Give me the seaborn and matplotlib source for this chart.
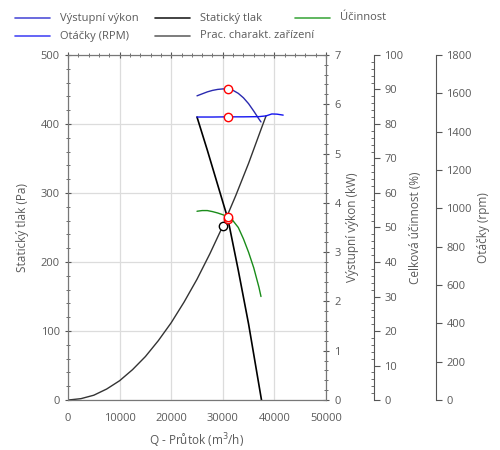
import matplotlib
matplotlib.use("Agg")
import matplotlib.pyplot as plt
import seaborn as sns
from matplotlib.ticker import MultipleLocator
from matplotlib.lines import Line2D

# flow (m3/h) and values
q_static = [25000, 27000, 29000, 31000, 33000, 35000, 37500]
p_static = [410, 362, 312, 262, 188, 110, 0]

q_system = [0, 2500, 5000, 7500, 10000, 12500, 15000, 17500, 20000, 22500,
            25000, 27500, 30000, 32500, 35000, 37500, 38400]
p_system = [0, 2, 7, 16, 28, 44, 63, 86, 112, 142, 175, 212, 252, 296, 343, 394, 412]

q_power = [25000, 26000, 27000, 28000, 29000, 30000, 31000, 32000, 33000,
           34000, 35000, 36000, 37000, 37400]
kw_power = [6.17, 6.21, 6.25, 6.28, 6.30, 6.31, 6.31, 6.28, 6.22,
            6.13, 6.01, 5.86, 5.70, 5.64]

q_eff = [25000, 26000, 27000, 28000, 29000, 30000, 31000, 32000, 33000,
         34000, 35000, 36000, 37000, 37400]
eff = [54.7, 54.9, 54.9, 54.6, 54.2, 53.7, 53.1, 51.9, 50.0,
       46.7, 42.8, 38.3, 32.7, 30.0]

q_rpm = [25000, 28000, 31000, 34000, 37000, 38400, 39500, 40500, 41700]
rpm = [1476, 1476, 1477, 1477, 1478, 1482, 1492, 1491, 1486]

# operating points
q_op = 31000
op_static, op_power, op_eff, op_rpm = 262, 6.31, 53.1, 1477
q_sys_pt, p_sys_pt = 30000, 252

sns.set_style("white")
plt.rcParams['font.family'] = ['Open Sans', 'DejaVu Sans']
txt = '#5a5a5a'
plt.rcParams['text.color'] = txt
plt.rcParams['xtick.color'] = '#555555'
plt.rcParams['ytick.color'] = '#555555'
plt.rcParams['xtick.labelcolor'] = txt
plt.rcParams['ytick.labelcolor'] = txt
fs = 8

fig = plt.figure(figsize=(5, 4.5), dpi=100)
ax = fig.add_axes([0.136, 0.111, 0.516, 0.767])

c_power = '#2a2ab0'
c_rpm = '#1414f0'
c_static = '#000000'
c_system = '#333333'
c_eff = '#1a8c1a'

ax.set_xlim(0, 50000)
ax.set_ylim(0, 500)
ax.xaxis.set_major_locator(MultipleLocator(10000))
ax.xaxis.set_minor_locator(MultipleLocator(2000))
ax.yaxis.set_major_locator(MultipleLocator(100))
ax.yaxis.set_minor_locator(MultipleLocator(20))
ax.grid(True, which='major', color='#dcdcdc', lw=0.9)
ax.tick_params(which='both', direction='inout', labelsize=fs, top=True)
ax.tick_params(which='major', length=5)
ax.tick_params(which='minor', length=3)
ax.tick_params(axis='x', pad=7)
for s in ax.spines.values():
    s.set_color('#777777')
ax.set_xlabel("Q - Průtok (m$^3$/h)", fontsize=fs + 0.5, color=txt, labelpad=5)
ax.set_ylabel("Statický tlak (Pa)", fontsize=fs + 0.5, color=txt, labelpad=8)

sns.lineplot(x=q_system, y=p_system, ax=ax, color=c_system, lw=1.0, sort=False, label='_sys')
sns.lineplot(x=q_static, y=p_static, ax=ax, color=c_static, lw=1.2, sort=False, label='_st')
ax.plot([q_sys_pt], [p_sys_pt], 'o', mfc='white', mec='black', ms=6, mew=1)
ax.plot([q_op], [op_static], 'o', mfc='white', mec='red', ms=6, mew=1, zorder=6)

# power axis (kW)
ax_kw = ax.twinx()
ax_kw.set_ylim(0, 7)
ax_kw.yaxis.set_major_locator(MultipleLocator(1))
ax_kw.yaxis.set_minor_locator(MultipleLocator(0.2))
ax_kw.tick_params(which='both', direction='inout', labelsize=fs)
ax_kw.tick_params(which='major', length=5)
ax_kw.tick_params(which='minor', length=3)
for s in ax_kw.spines.values():
    s.set_color('#777777')
ax_kw.set_ylabel("Výstupní výkon (kW)", fontsize=fs + 0.5, color=txt, labelpad=4)
sns.lineplot(x=q_power, y=kw_power, ax=ax_kw, color=c_power, lw=1.0, sort=False, label='_pw')
ax_kw.plot([q_op], [op_power], 'o', mfc='white', mec='red', ms=6, mew=1)

# efficiency axis (%)
ax_eff = ax.twinx()
ax_eff.spines['right'].set_position(('axes', 1.186))
ax_eff.set_ylim(0, 100)
ax_eff.yaxis.set_major_locator(MultipleLocator(10))
ax_eff.yaxis.set_minor_locator(MultipleLocator(2))
ax_eff.tick_params(which='major', direction='out', length=4, labelsize=fs)
ax_eff.tick_params(which='minor', direction='in', length=2)
for k in ['top', 'bottom', 'left']:
    ax_eff.spines[k].set_visible(False)
ax_eff.spines['right'].set_color('#555555')
ax_eff.set_ylabel("Celková účinnost (%)", fontsize=fs + 0.5, color=txt, labelpad=4)
sns.lineplot(x=q_eff, y=eff, ax=ax_eff, color=c_eff, lw=1.0, sort=False, label='_ef')
ax_eff.plot([q_op], [op_eff], 'o', mfc='white', mec='red', ms=6, mew=1)

# rpm axis
ax_rpm = ax.twinx()
ax_rpm.spines['right'].set_position(('axes', 1.426))
ax_rpm.set_ylim(0, 1800)
ax_rpm.yaxis.set_major_locator(MultipleLocator(200))
ax_rpm.tick_params(which='major', direction='out', length=4, labelsize=fs)
for k in ['top', 'bottom', 'left']:
    ax_rpm.spines[k].set_visible(False)
ax_rpm.spines['right'].set_color('#555555')
ax_rpm.set_ylabel("Otáčky (rpm)", fontsize=fs + 0.5, color=txt, labelpad=4)
sns.lineplot(x=q_rpm, y=rpm, ax=ax_rpm, color=c_rpm, lw=1.0, sort=False, label='_rp')
ax_rpm.plot([q_op], [op_rpm], 'o', mfc='white', mec='red', ms=6, mew=1)

for a in (ax, ax_kw, ax_eff, ax_rpm):
    lg = a.get_legend()
    if lg is not None:
        lg.remove()

# legend at top, laid out as a flowing two-row strip
legend_items = [("Výstupní výkon", '#5050d8', 0.03, 0.96),
                ("Statický tlak", '#222222', 0.31, 0.96),
                ("Účinnost", '#44aa44', 0.59, 0.96),
                ("Otáčky (RPM)", '#4a4af5', 0.03, 0.92),
                ("Prac. charakt. zařízení", '#666666', 0.31, 0.92)]
for label, col, x0, y0 in legend_items:
    fig.add_artist(Line2D([x0, x0 + 0.07], [y0, y0], color=col, lw=1.2,
                          transform=fig.transFigure))
    fig.text(x0 + 0.09, y0, label, fontsize=fs, color=txt, va='center', ha='left')

fig.savefig("out.png", dpi=100)
